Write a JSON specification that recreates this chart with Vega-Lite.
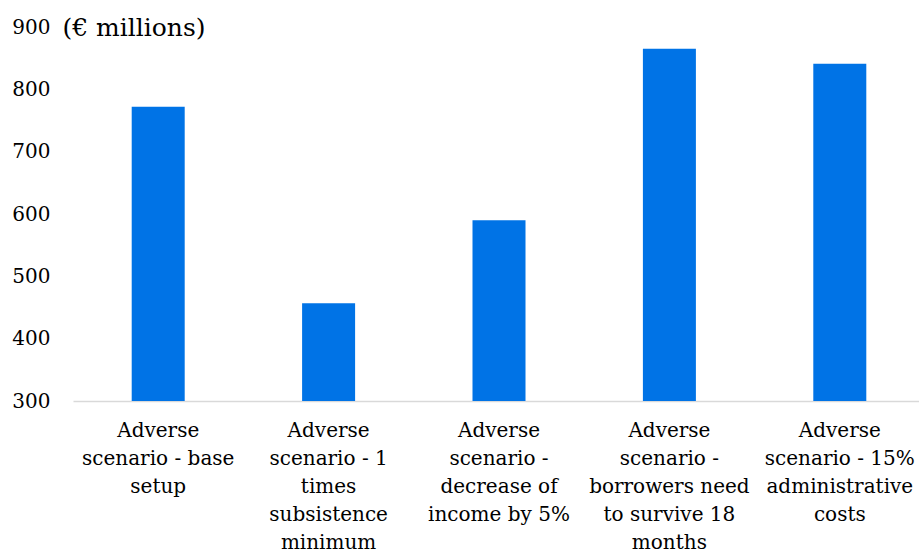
{
  "$schema": "https://vega.github.io/schema/vega-lite/v6.json",
  "width": 852,
  "height": 374,
  "autosize": {"type": "none"},
  "padding": {"left": 73, "top": 27, "right": 0, "bottom": 153},
  "background": "white",
  "config": {
    "view": {"stroke": null},
    "font": "DejaVu Serif"
  },
  "data": {
    "values": [
      {"scenario": "Adverse\nscenario - base\nsetup", "value": 772},
      {"scenario": "Adverse\nscenario - 1\ntimes\nsubsistence\nminimum", "value": 457},
      {"scenario": "Adverse\nscenario -\ndecrease of\nincome by 5%", "value": 590},
      {"scenario": "Adverse\nscenario -\nborrowers need\nto survive 18\nmonths", "value": 865},
      {"scenario": "Adverse\nscenario - 15%\nadministrative\ncosts", "value": 841}
    ]
  },
  "mark": {"type": "bar", "color": "#0073E6", "width": 53, "clip": true},
  "encoding": {
    "x": {
      "field": "scenario",
      "type": "nominal",
      "sort": null,
      "axis": {
        "title": null,
        "labelAngle": 0,
        "labelExpr": "split(datum.label, '\\n')",
        "labelFontSize": 20,
        "labelLineHeight": 28,
        "labelColor": "#000000",
        "labelPadding": 19,
        "labelLimit": 0,
        "ticks": false,
        "domainColor": "#D9D9D9",
        "domainWidth": 1.5
      }
    },
    "y": {
      "field": "value",
      "type": "quantitative",
      "scale": {"domain": [300, 900], "nice": false, "zero": false},
      "axis": {
        "title": "(€ millions)",
        "titleAngle": 0,
        "titleAlign": "left",
        "titleBaseline": "middle",
        "titleX": -11,
        "titleY": 0,
        "titleFontSize": 25,
        "titleFontWeight": "normal",
        "titleColor": "#000000",
        "values": [300, 400, 500, 600, 700, 800, 900],
        "labelFontSize": 20,
        "labelColor": "#000000",
        "labelPadding": 23,
        "ticks": false,
        "domain": false,
        "grid": false
      }
    }
  }
}
